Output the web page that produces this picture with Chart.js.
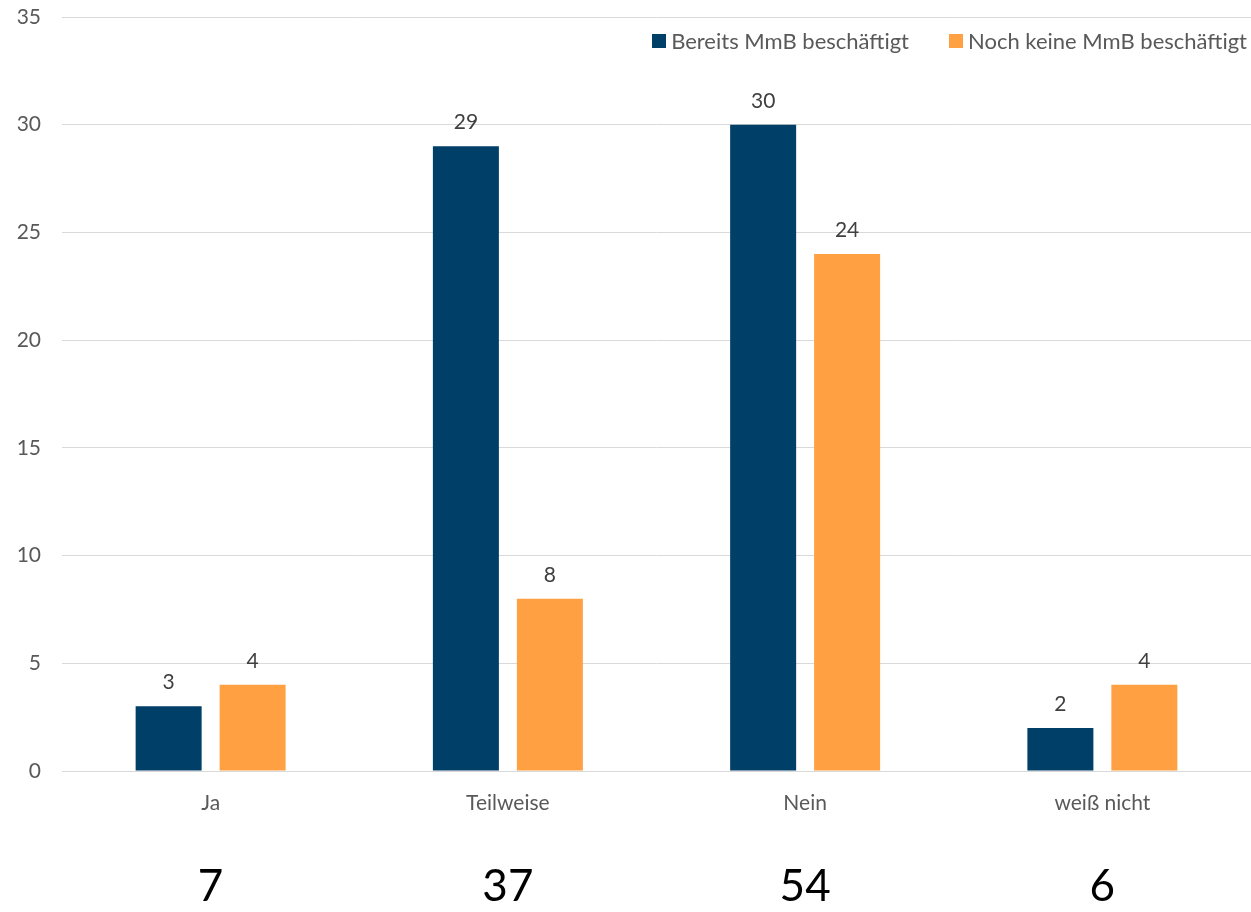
<!DOCTYPE html>
<html><head><meta charset="utf-8">
<script src="https://cdn.jsdelivr.net/npm/chart.js@4/dist/chart.umd.min.js"></script>
<style>
html,body{margin:0;padding:0;background:#fff;}
#wrap{position:relative;width:1251px;height:912px;}
#legend{position:absolute;top:28px;right:4px;display:flex;gap:40px;font-family:Lato,"Open Sans",sans-serif;font-size:22px;color:#595959;line-height:26px;}
#legend span.i{display:flex;align-items:center;}
#legend b{display:inline-block;width:14px;height:14px;margin-right:5px;}
</style></head>
<body><div id="wrap"><canvas id="c" width="1251" height="912"></canvas>
<div id="legend"></div></div>
<script>
const categories = ["Ja", "Teilweise", "Nein", "weiß nicht"];
const seriesNames = ["Bereits MmB beschäftigt", "Noch keine MmB beschäftigt"];
const bereits = [3, 29, 30, 2];
const nochKeine = [4, 8, 24, 4];
const totals = ["7", "37", "54", "6"];
const yTicks = [0, 5, 10, 15, 20, 25, 30, 35];
const colors = ["#003F68", "#FFA042"];

const FONT = 'Lato, "Open Sans", sans-serif';

document.getElementById('legend').innerHTML = seriesNames.map((n,i)=>
  `<span class="i"><b style="background:${colors[i]}"></b>${n}</span>`).join('');

const valueLabels = {
  id: 'valueLabels',
  afterDatasetsDraw(chart) {
    const ctx = chart.ctx;
    ctx.save();
    ctx.font = '21px ' + FONT;
    ctx.fillStyle = '#404040';
    ctx.textAlign = 'center';
    ctx.textBaseline = 'alphabetic';
    chart.data.datasets.forEach((ds, di) => {
      chart.getDatasetMeta(di).data.forEach((el, i) => {
        ctx.fillText(String(ds.data[i]), el.x, el.y - 17);
      });
    });
    ctx.restore();
  }
};

new Chart(document.getElementById('c'), {
  type: 'bar',
  data: {
    labels: categories,
    datasets: [
      { label: seriesNames[0], data: bereits, backgroundColor: colors[0], categoryPercentage: 0.565, barPercentage: 0.786 },
      { label: seriesNames[1], data: nochKeine, backgroundColor: colors[1], categoryPercentage: 0.565, barPercentage: 0.786 }
    ]
  },
  options: {
    responsive: false,
    animation: false,
    layout: { padding: { top: 17, right: 0, left: 0, bottom: 0 } },
    plugins: { legend: { display: false }, tooltip: { enabled: false } },
    scales: {
      x: {
        grid: { display: false, drawTicks: false },
        border: { display: true, color: '#d9d9d9', width: 1 },
        ticks: { color: '#595959', font: { family: FONT, size: 21 }, padding: 20 },
        afterFit(s) { s.height = 60; }
      },
      x2: {
        type: 'category',
        position: 'bottom',
        labels: totals,
        grid: { display: false, drawTicks: false },
        border: { display: false },
        ticks: { color: '#000', font: { family: FONT, size: 44 }, padding: 29 },
        afterFit(s) { s.height = 81; }
      },
      y: {
        min: 0, max: 35,
        afterBuildTicks(s) { s.ticks = yTicks.map(v => ({ value: v })); },
        grid: { color: '#d9d9d9', drawTicks: false },
        border: { display: false },
        ticks: { color: '#595959', font: { family: FONT, size: 21 }, padding: 21 },
        afterFit(s) { s.width = 62; s.paddingTop = 0; s.paddingBottom = 0; }
      }
    }
  },
  plugins: [valueLabels]
});
</script>
</body></html>
